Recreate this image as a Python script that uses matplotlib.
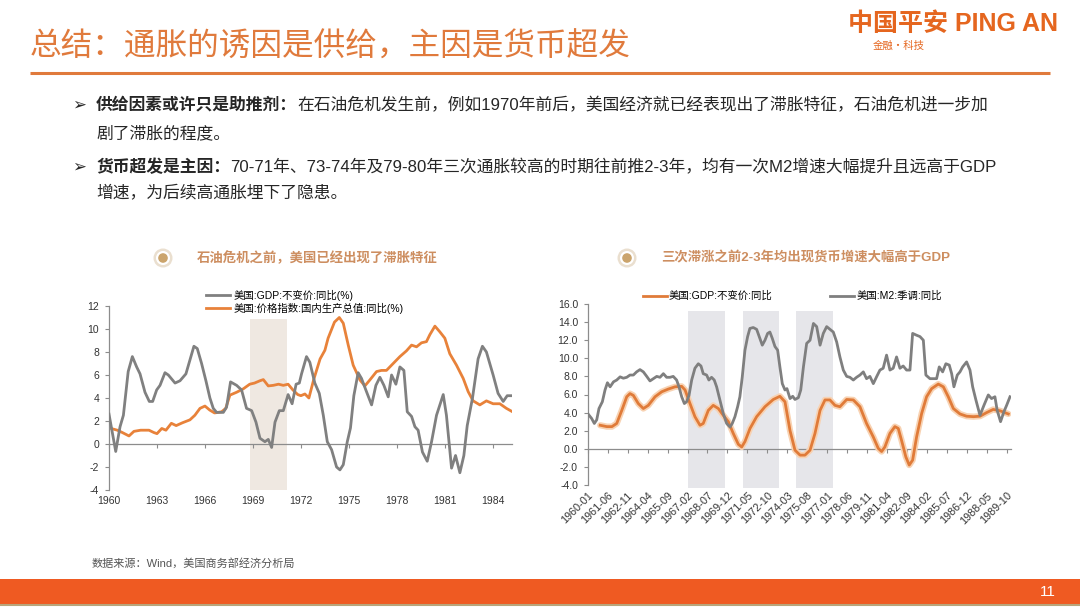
"""总结页：通胀的诱因是供给，主因是货币超发 —— 两幅美国宏观对比图。"""
import matplotlib
matplotlib.use("Agg")
import matplotlib.pyplot as plt
from matplotlib.patches import Circle, Rectangle

plt.rcParams["font.family"] = ["Liberation Sans", "Noto Sans CJK SC", "DejaVu Sans"]
plt.rcParams["axes.unicode_minus"] = False

# ---- 左图：美国GDP不变价同比 vs GDP平减指数同比（季度）
gdp_l_year = [1960.0, 1960.42, 1960.69, 1960.9, 1961.2, 1961.46, 1961.73, 1961.94, 1962.25, 1962.52,
              1962.73, 1962.98, 1963.19, 1963.5, 1963.71, 1964.13, 1964.44, 1964.81, 1965.06, 1965.31,
              1965.52, 1965.79, 1966.06, 1966.31, 1966.52, 1966.73, 1967.15, 1967.35, 1967.6, 1967.98,
              1968.29, 1968.6, 1968.92, 1969.19, 1969.44, 1969.75, 1969.96, 1970.17, 1970.38, 1970.65,
              1970.9, 1971.2, 1971.45, 1971.7, 1971.9, 1972.04, 1972.35, 1972.56, 1972.87, 1973.15,
              1973.4, 1973.65, 1973.92, 1974.23, 1974.44, 1974.65, 1974.9, 1975.1, 1975.31, 1975.58,
              1975.79, 1976.06, 1976.42, 1976.69, 1976.94, 1977.19, 1977.46, 1977.67, 1977.94, 1978.19,
              1978.44, 1978.65, 1978.92, 1979.13, 1979.33, 1979.6, 1979.9, 1980.17, 1980.48, 1980.9,
              1981.1, 1981.42, 1981.67, 1981.94, 1982.19, 1982.4, 1982.73, 1983.08, 1983.35, 1983.6,
              1984.02, 1984.33, 1984.65, 1984.9, 1985.17]
gdp_l_val = [2.6, -0.65, 1.5, 2.5, 6.3, 7.6, 6.7, 6.1, 4.5, 3.7,
             3.7, 4.7, 5.1, 6.2, 6.0, 5.3, 5.5, 6.1, 7.3, 8.5,
             8.3, 7.0, 5.5, 4.0, 3.1, 2.75, 2.75, 3.2, 5.4, 5.1,
             4.7, 3.1, 2.9, 1.9, 0.5, 0.2, 0.4, -0.3, 1.9, 2.9,
             2.9, 4.3, 3.5, 5.2, 5.3, 6.1, 7.6, 7.1, 5.3, 4.4,
             2.5, 0.2, -0.5, -2.0, -2.25, -1.8, 0.2, 1.4, 4.2, 6.2,
             5.7, 4.7, 3.4, 5.1, 5.8, 5.1, 4.1, 6.0, 5.2, 6.7,
             6.4, 2.8, 2.4, 1.5, 1.2, -0.7, -1.5, 0.2, 2.5, 4.3,
             2.5, -2.1, -1.0, -2.5, -1.0, 1.6, 4.0, 7.4, 8.5, 8.0,
             6.0, 4.4, 3.7, 4.2, 4.2]

defl_year = [1960.0, 1960.52, 1960.83, 1961.25, 1961.56, 1961.98, 1962.5, 1962.8, 1963.0, 1963.3,
             1963.56, 1963.9, 1964.2, 1964.6, 1965.06, 1965.37, 1965.69, 1966.0, 1966.3, 1966.6,
             1967.04, 1967.3, 1967.56, 1967.98, 1968.4, 1968.8, 1969.1, 1969.44, 1969.65, 1969.96,
             1970.27, 1970.6, 1970.9, 1971.2, 1971.5, 1971.8, 1972.0, 1972.25, 1972.5, 1972.8,
             1973.2, 1973.5, 1973.7, 1974.1, 1974.4, 1974.65, 1974.96, 1975.27, 1975.7, 1976.0,
             1976.3, 1976.73, 1977.04, 1977.35, 1977.77, 1978.19, 1978.6, 1978.92, 1979.23, 1979.54,
             1979.85, 1980.06, 1980.38, 1980.69, 1981.0, 1981.31, 1981.73, 1982.15, 1982.46, 1982.77,
             1983.19, 1983.6, 1984.02, 1984.44, 1984.85, 1985.17]
defl_val = [1.4, 1.2, 1.0, 0.7, 1.1, 1.2, 1.2, 1.0, 0.9, 1.35,
            1.2, 1.8, 1.6, 1.85, 2.1, 2.5, 3.1, 3.3, 2.95, 2.7,
            2.8, 3.1, 4.25, 4.5, 4.8, 5.2, 5.3, 5.5, 5.6, 5.05,
            5.1, 5.2, 5.1, 5.2, 4.7, 4.3, 4.2, 4.35, 4.0, 5.6,
            7.4, 8.15, 9.2, 10.6, 11.0, 10.5, 8.6, 6.85, 5.55, 5.05,
            5.55, 6.3, 6.4, 6.4, 7.0, 7.6, 8.1, 8.6, 8.45, 8.8,
            8.9, 9.5, 10.25, 9.75, 9.2, 7.85, 6.85, 5.7, 4.55, 3.75,
            3.4, 3.75, 3.5, 3.5, 3.1, 2.85]

left_shade = (1968.8, 1971.1, -4.0, 10.85)
left_ticks = [1960, 1963, 1966, 1969, 1972, 1975, 1978, 1981, 1984]

# ---- 右图：美国GDP不变价同比 vs M2季调同比
gdp_r_year = [1960.89, 1961.36, 1961.72, 1962.06, 1962.42, 1962.77, 1963.0, 1963.24, 1963.59, 1963.95,
              1964.3, 1964.78, 1965.25, 1965.72, 1966.2, 1966.67, 1966.91, 1967.26, 1967.61, 1967.97,
              1968.2, 1968.56, 1968.91, 1969.27, 1969.62, 1969.98, 1970.33, 1970.69, 1970.93, 1971.16,
              1971.52, 1971.99, 1972.58, 1973.17, 1973.64, 1974.0, 1974.36, 1974.71, 1975.07, 1975.42,
              1975.78, 1976.13, 1976.49, 1976.84, 1977.19, 1977.55, 1977.9, 1978.38, 1978.85, 1979.32,
              1979.79, 1980.27, 1980.62, 1980.86, 1981.09, 1981.45, 1981.8, 1982.04, 1982.27, 1982.58,
              1982.82, 1983.06, 1983.34, 1983.7, 1984.05, 1984.41, 1984.88, 1985.24, 1985.59, 1985.95,
              1986.42, 1986.89, 1987.37, 1987.84, 1988.31, 1988.78, 1989.26, 1989.85]
gdp_r_val = [2.6, 2.45, 2.45, 2.8, 4.25, 5.75, 6.1, 5.9, 5.0, 4.45,
             4.8, 5.75, 6.3, 6.6, 6.85, 6.9, 6.5, 5.0, 3.55, 2.6,
             2.8, 4.25, 4.8, 4.45, 3.7, 3.0, 1.7, 0.5, 0.2, 0.8,
             2.25, 3.55, 4.65, 5.45, 5.8, 5.2, 2.0, -0.15, -0.7, -0.7,
             -0.15, 1.7, 4.25, 5.4, 5.4, 4.8, 4.65, 5.45, 5.4, 4.65,
             2.8, 1.3, 0.05, -0.3, 0.2, 1.7, 2.45, 2.25, 0.95, -0.9,
             -1.8, -1.25, 1.3, 3.9, 5.75, 6.65, 7.15, 6.85, 5.75, 4.45,
             3.85, 3.6, 3.55, 3.6, 4.0, 4.35, 4.2, 3.85]

m2_year = [1960.0, 1960.28, 1960.47, 1960.64, 1960.8, 1961.04, 1961.23, 1961.4, 1961.59, 1961.83,
           1962.06, 1962.3, 1962.53, 1962.77, 1963.0, 1963.24, 1963.47, 1963.71, 1963.95, 1964.19,
           1964.42, 1964.66, 1964.9, 1965.13, 1965.37, 1965.6, 1965.84, 1966.07, 1966.31, 1966.48,
           1966.67, 1966.86, 1967.02, 1967.19, 1967.38, 1967.61, 1967.85, 1968.04, 1968.2, 1968.44,
           1968.6, 1968.79, 1968.98, 1969.15, 1969.38, 1969.62, 1969.86, 1970.1, 1970.26, 1970.45,
           1970.64, 1970.8, 1970.97, 1971.16, 1971.35, 1971.51, 1971.75, 1971.99, 1972.22, 1972.39,
           1972.58, 1972.77, 1972.93, 1973.1, 1973.29, 1973.48, 1973.64, 1973.81, 1974.0, 1974.14,
           1974.36, 1974.55, 1974.71, 1974.95, 1975.12, 1975.31, 1975.54, 1975.78, 1976.02, 1976.25,
           1976.49, 1976.72, 1976.96, 1977.19, 1977.43, 1977.67, 1977.9, 1978.14, 1978.38, 1978.61,
           1978.85, 1979.08, 1979.32, 1979.56, 1979.79, 1980.03, 1980.27, 1980.5, 1980.74, 1980.97,
           1981.21, 1981.45, 1981.68, 1981.92, 1982.16, 1982.39, 1982.63, 1982.87, 1983.06, 1983.34,
           1983.58, 1983.82, 1984.0, 1984.29, 1984.53, 1984.76, 1984.95, 1985.19, 1985.42, 1985.66,
           1985.83, 1985.99, 1986.23, 1986.42, 1986.61, 1986.89, 1987.13, 1987.32, 1987.55, 1987.84,
           1988.12, 1988.43, 1988.66, 1988.9, 1989.06, 1989.3, 1989.54, 1989.73, 1989.97]
m2_val = [3.9, 3.35, 2.8, 3.2, 4.45, 5.2, 6.5, 7.3, 6.85, 7.4,
          7.6, 7.95, 7.8, 7.9, 8.15, 8.15, 8.5, 8.75, 8.5, 8.0,
          7.5, 7.75, 8.0, 7.9, 8.3, 7.9, 7.9, 8.0, 7.6, 6.85,
          5.75, 5.0, 5.2, 5.9, 7.6, 8.9, 9.4, 9.15, 8.3, 8.15,
          7.6, 7.9, 7.6, 6.85, 5.4, 3.9, 2.8, 2.4, 2.8, 3.55,
          4.65, 5.75, 7.95, 10.9, 12.4, 13.3, 13.4, 13.2, 12.2, 11.45,
          12.0, 12.75, 12.9, 12.2, 11.3, 10.9, 9.05, 7.2, 6.5, 6.65,
          5.55, 5.8, 5.45, 5.65, 6.5, 9.05, 11.65, 12.0, 13.85, 13.5,
          11.45, 12.75, 13.5, 13.2, 12.9, 11.8, 10.15, 8.7, 8.0, 7.9,
          7.6, 7.9, 8.15, 8.5, 7.75, 8.0, 7.2, 7.95, 8.7, 8.9,
          10.35, 8.7, 8.9, 10.15, 8.9, 9.15, 8.7, 8.7, 12.75, 12.55,
          12.4, 12.0, 8.15, 7.75, 7.75, 7.75, 9.05, 8.5, 9.4, 9.25,
          8.3, 6.85, 8.15, 8.5, 9.05, 9.6, 8.7, 6.85, 5.4, 3.7,
          4.8, 5.95, 5.55, 5.75, 4.25, 3.0, 4.1, 4.8, 5.75]

right_shades = [(1967.14, 1969.74), (1971.0, 1973.6), (1974.78, 1977.39)]
right_shade_lo, right_shade_hi = -4.3, 15.2

ORANGE = "#E8823A"
GREY = "#808080"
AXIS = "#8C8C8C"

fig = plt.figure(figsize=(10.8, 6.08), dpi=100)
fig.patch.set_facecolor("white")

# 背景层：页面装饰，像素坐标
bg = fig.add_axes([0, 0, 1, 1])
bg.set_xlim(0, 1080)
bg.set_ylim(608, 0)
bg.axis("off")

bg.text(30, 47, "总结：通胀的诱因是供给，主因是货币超发", fontsize=22.8, color="#E07A3C",
        va="center", ha="left", family=["Noto Sans CJK SC"])
bg.plot([30, 1050], [73, 73], color="#E07A3C", lw=2.2, solid_capstyle="butt")

bg.text(848, 24, "中国平安 PING AN", fontsize=18, fontweight="bold", color="#E5661F",
        va="center", ha="left", family=["Liberation Sans", "Noto Sans CJK SC"])
bg.text(873, 46, "金融·科技", fontsize=7.5, color="#E5661F", va="center", ha="left",
        family=["Noto Sans CJK SC"])

TXT = "#262626"


def rich_line(x, y, parts, size=12.1):
    """一行混合粗细的文字，后一段接在前一段右边。"""
    t = bg.text(x, y, parts[0][0], fontsize=size, fontweight=parts[0][1], color=TXT,
                va="center", ha="left")
    for txt, w in parts[1:]:
        t = bg.annotate(txt, xy=(1, 0), xycoords=t, fontsize=size, fontweight=w, color=TXT,
                        va="bottom", ha="left")
    return t


for yb in (105, 167):
    bg.text(72, yb, "➢", fontsize=12, color=TXT, va="center", ha="left", family=["DejaVu Sans"])

rich_line(96, 105, [("供给因素或许只是助推剂：", "bold"),
                    ("在石油危机发生前，例如1970年前后，美国经济就已经表现出了滞胀特征，石油危机进一步加", "normal")])
rich_line(96, 133, [("剧了滞胀的程度。", "normal")])
rich_line(96, 167, [("货币超发是主因：", "bold"),
                    ("70-71年、73-74年及79-80年三次通胀较高的时期往前推2-3年，均有一次M2增速大幅提升且远高于GDP", "normal")])
rich_line(96, 193, [("增速，为后续高通胀埋下了隐患。", "normal")])

# 图标题 + 圆形图标
for cx, title in ((163, "石油危机之前，美国已经出现了滞胀特征"),
                  (627, "三次滞涨之前2-3年均出现货币增速大幅高于GDP")):
    bg.add_patch(Circle((cx, 258), 9.5, fc="#EADFCF", ec="none"))
    bg.add_patch(Circle((cx, 258), 7, fc="white", ec="none"))
    bg.add_patch(Circle((cx, 258), 4.8, fc="#CBA46C", ec="none"))
    bg.text(cx + 34, 258, title, fontsize=9.6, fontweight="bold", color="#CD8E60",
            va="center", ha="left")

bg.text(92, 563, "数据来源：Wind，美国商务部经济分析局", fontsize=8, color="#555555",
        va="center", ha="left")

bg.add_patch(Rectangle((0, 579), 1080, 25, fc="#EF5A22", ec="none"))
bg.plot([0, 1080], [605, 605], color="#B9A57A", lw=1.5)
bg.text(1048, 592, "11", fontsize=11, color="white", va="center", ha="center")


def style_axes(ax, ylim):
    for s in ("top", "right", "bottom"):
        ax.spines[s].set_visible(False)
    ax.spines["left"].set_color(AXIS)
    ax.spines["left"].set_linewidth(0.9)
    ax.set_ylim(*ylim)
    ax.tick_params(axis="y", direction="out", length=3, width=0.8, color=AXIS,
                   labelsize=7.5, labelcolor="#333333", pad=4)
    ax.tick_params(axis="x", length=0, labelsize=7.5, labelcolor="#333333", pad=4)
    # 零轴（带刻度）
    zero_frac = (0 - ylim[0]) / (ylim[1] - ylim[0])
    sec = ax.secondary_xaxis(zero_frac)
    sec.spines["bottom"].set_color(AXIS)
    sec.spines["bottom"].set_linewidth(0.9)
    sec.tick_params(axis="x", direction="out", length=3, width=0.8, color=AXIS, labelbottom=False)
    return sec


# ---- 左图
axl = fig.add_axes([109 / 1080, 1 - 490 / 608, (512 - 109) / 1080, (490 - 306) / 608])
axl.set_facecolor("none")
x0, x1, lo, hi = left_shade
axl.fill_between([x0, x1], lo, hi, color="#EFE8E1", lw=0, zorder=0)
axl.plot(gdp_l_year, gdp_l_val, color=GREY, lw=2.0, label="美国:GDP:不变价:同比(%)", zorder=3)
axl.plot(defl_year, defl_val, color=ORANGE, lw=2.0, label="美国:价格指数:国内生产总值:同比(%)", zorder=2)
axl.set_xlim(1960, 1985.2)
secl = style_axes(axl, (-4, 12))
axl.set_yticks(range(-4, 13, 2))
axl.set_xticks(left_ticks)
axl.set_xticklabels([str(t) for t in left_ticks])
secl.set_xticks(left_ticks)
h, l = axl.get_legend_handles_labels()
axl.legend(h, l, loc="upper left", bbox_to_anchor=(206, 290), bbox_transform=bg.transData,
           frameon=False, fontsize=7.5, handlelength=2.3, handletextpad=0.3,
           labelspacing=0.15, borderpad=0, borderaxespad=0)

# ---- 右图
axr = fig.add_axes([587.7 / 1080, 1 - 485 / 608, (1010.7 - 587.7) / 1080, (485 - 304) / 608])
axr.set_facecolor("none")
for a, b in right_shades:
    axr.fill_between([a, b], right_shade_lo, right_shade_hi, color="#E6E6EA", lw=0,
                     zorder=0, clip_on=False)
axr.plot(gdp_r_year, gdp_r_val, color="#F8D2B2", lw=4.5, zorder=2, solid_capstyle="round")
axr.plot(gdp_r_year, gdp_r_val, color="#E07B39", lw=2.0, zorder=3, label="美国:GDP:不变价:同比")
axr.plot(m2_year, m2_val, color="#7F7F7F", lw=2.0, zorder=4, label="美国:M2:季调:同比")
axr.set_xlim(1960, 1990.02)
secr = style_axes(axr, (-4, 16))
axr.set_yticks(range(-4, 17, 2))
axr.set_yticklabels([f"{v:.1f}" for v in range(-4, 17, 2)])
r_ticks = [1960 + k * 17 / 12 for k in range(22)]
r_labels = [f"{1960 + (k * 17) // 12}-{(k * 17) % 12 + 1:02d}" for k in range(22)]
axr.set_xticks(r_ticks)
axr.set_xticklabels(r_labels, rotation=45, ha="right", rotation_mode="anchor", fontsize=7.8)
secr.set_xticks(r_ticks)
h, l = axr.get_legend_handles_labels()
axr.legend(h, l, loc="upper left", bbox_to_anchor=(643, 291), bbox_transform=bg.transData,
           ncol=2, frameon=False, fontsize=7.5, handlelength=2.3, handletextpad=0.2,
           columnspacing=5.5, borderpad=0, borderaxespad=0)

fig.savefig("out.png", dpi=100, facecolor="white")
